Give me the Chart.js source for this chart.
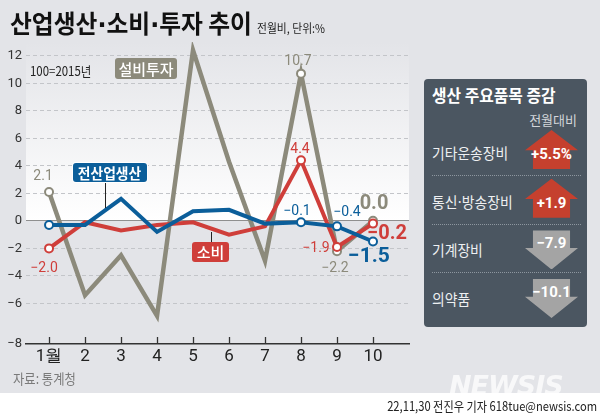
<!DOCTYPE html>
<html>
<head>
<meta charset="utf-8">
<script src="https://cdn.jsdelivr.net/npm/chart.js"></script>
<style>
  body { margin: 0; }
  #wrap { position: relative; width: 600px; height: 417px; background: #fff; overflow: hidden;
          font-family: "Noto Sans CJK KR", "Noto Sans", sans-serif; }
  #bg { position: absolute; left: 0; top: 0; width: 600px; height: 393px; background: #e3e4e8; }
  #c { position: absolute; left: 0; top: 0; }
  .abs { position: absolute; white-space: nowrap; }
  .narrow { display: inline-block; transform-origin: left center; }
  .dot { font-family: "DejaVu Sans", sans-serif; }
  .tag { position: absolute; color: #fff; text-align: center; border-radius: 3px; font-size: 15px; font-weight: 500; }
  .leader { position: absolute; width: 1px; background: #222; }
  #panel { position: absolute; left: 424px; top: 79px; width: 163px; height: 248px; background: #4b5661; border-radius: 4px; }
  .row { position: absolute; left: 8px; width: 149px; height: 48px; }
  .row.sep { border-bottom: 1px dotted #8d969f; }
  .row .name { position: absolute; left: 0; color: #eef0f2; font-size: 15px; }
  .arrow { position: absolute; left: 93px; width: 53px; height: 39px; }
  .arrow .shape { position: absolute; left: 0; top: 0; width: 100%; height: 100%; }
  .arrow .val { position: absolute; left: 0; width: 100%; text-align: center; color: #fff; font-weight: bold;
                font-size: 15px; font-family: "Liberation Sans Narrow", "Roboto", sans-serif; }
</style>
</head>
<body>
<div id="wrap">
  <div id="bg"></div>
  <canvas id="c" width="600" height="417"></canvas>

  <div class="abs" style="left:10px;top:4px;font-size:25px;font-weight:bold;color:#111;">
    <span class="narrow" style="transform:scaleX(0.95);">산업생산<span class="dot">·</span>소비<span class="dot">·</span>투자 추이</span>
  </div>
  <div class="abs" style="left:257px;top:19px;font-size:12px;color:#222;">
    <span class="narrow" style="transform:scaleX(0.9);">전월비, 단위:%</span>
  </div>
  <div class="abs" style="left:30px;top:61px;font-size:13px;color:#222;">
    <span class="narrow" style="transform:scaleX(0.88);">100=2015년</span>
  </div>

  <div class="tag" style="left:115px;top:58px;width:62px;height:21px;line-height:21px;background:#8c8a7b;">설비투자</div>
  <div class="leader" style="left:105px;top:181px;height:27px;"></div>
  <div class="tag" style="left:73px;top:163px;width:74px;height:19px;line-height:19px;background:#0b5e9a;box-shadow:0 0 0 1px #fff;font-weight:bold;">
    <span class="narrow" style="transform:scaleX(0.92);transform-origin:center;">전산업생산</span></div>
  <div class="leader" style="left:211px;top:232px;height:10px;"></div>
  <div class="tag" style="left:192px;top:242px;width:37px;height:20px;line-height:20px;background:#cf3e3a;">소비</div>

  <div class="abs" style="left:13px;top:368px;font-size:14px;color:#7a7a7a;">
    <span class="narrow" style="transform:scaleX(0.88);">자료: 통계청</span>
  </div>

  <div id="panel">
    <div class="abs" style="left:8px;top:3px;font-size:17px;font-weight:bold;color:#fff;">
      <span class="narrow" style="transform:scaleX(0.93);">생산 주요품목 증감</span>
    </div>
    <div class="abs" style="right:10px;top:31px;font-size:13px;color:#d3d6da;">전월대비</div>
    <div id="rows"></div>
  </div>

  <div class="abs" style="left:449px;top:370px;font-size:27px;font-weight:bold;font-style:italic;color:rgba(255,255,255,0.75);font-family:'DejaVu Sans',sans-serif;letter-spacing:-1px;">NEWSIS</div>
  <div class="abs" style="right:3px;top:396px;font-size:13px;color:#222;">
    <span class="narrow" style="transform:scaleX(0.86);transform-origin:right center;">22,11,30 전진우 기자 618tue@newsis.com</span>
  </div>
</div>

<script>
// month axis
const months = [1, 2, 3, 4, 5, 6, 7, 8, 9, 10];
const monthLabels = ['1월', '2', '3', '4', '5', '6', '7', '8', '9', '10'];

// 전월비 (%)
const production = [-0.3, -0.3, 1.6, -0.8, 0.7, 0.8, -0.2, -0.1, -0.4, -1.5];   // 전산업생산
const consumption = [-2.0, -0.1, -0.7, -0.3, -0.1, -1.0, -0.4, 4.4, -1.9, -0.2]; // 소비
const investment = [2.1, -5.4, -2.5, -6.9, 12.4, 4.3, -2.9, 10.7, -2.2, 0.0];    // 설비투자

const yTicks = [12, 10, 8, 6, 4, 2, 0, -2, -4, -6, -8];
const markedIdx = [0, 7, 8, 9];

// right panel
const itemNames = ['기타운송장비', '통신·방송장비', '기계장비', '의약품'];
const itemChanges = [5.5, 1.9, -7.9, -10.1];

const BLUE = '#0b5e9a', RED = '#cf3e3a', GRAY = '#8c8a7b';
const NUM_FONT = '"Liberation Sans Narrow", "Roboto", sans-serif';
const Y_MIN = -8.95, Y_MAX = 13;

const fmt = v => (v < 0 ? '−' : '') + Math.abs(v).toFixed(1);

// panel rows
(function buildRows() {
  const rows = document.getElementById('rows');
  itemNames.forEach((name, i) => {
    const v = itemChanges[i];
    const up = v > 0;
    const row = document.createElement('div');
    row.className = 'row' + (i < itemNames.length - 1 ? ' sep' : '');
    row.style.top = (48 + i * 48.7) + 'px';
    const txt = (up ? '+' : '−') + Math.abs(v) + (i === 0 ? '%' : '');
    const clip = up
      ? 'polygon(50% 0, 100% 52%, 85% 52%, 85% 100%, 15% 100%, 15% 52%, 0 52%)'
      : 'polygon(15% 0, 85% 0, 85% 45%, 100% 45%, 50% 100%, 0 45%, 15% 45%)';
    const label = name.replace('·', '<span class="dot">·</span>');
    row.innerHTML =
      '<div class="name" style="top:15px;"><span class="narrow" style="transform:scaleX(0.92);">' + label + '</span></div>' +
      '<div class="arrow" style="top:' + (up ? 3 : 6) + 'px;">' +
        '<div class="shape" style="background:' + (up ? '#c5402e' : '#a4a4a4') + ';clip-path:' + clip + ';"></div>' +
        '<div class="val" style="top:' + (up ? 15 : 4) + 'px;">' + txt + '</div>' +
      '</div>';
    rows.appendChild(row);
  });
})();

// value labels next to points: [dataset index, point index, dx, dy, size, bold]
const labelSpecs = [
  [2, 0, -6, -15, 14, false],
  [1, 0, -5, 20, 14, false],
  [2, 7, -3, -12, 14, false],
  [1, 7, -1, -11, 14, false],
  [0, 7, -4, -11, 14, false],
  [0, 8, 10, -14, 14, false],
  [1, 8, -21, 1, 14, false],
  [2, 8, -2, 17, 14, false],
  [2, 9, 1, -17, 20, true],
  [1, 9, 14, 10, 20, true],
  [0, 9, -4, 15, 21, true]
];

const decor = {
  id: 'decor',
  beforeDraw(chart) {
    const { ctx, chartArea: a, scales: { y } } = chart;
    const y0 = y.getPixelForValue(0);
    const g = ctx.createLinearGradient(0, a.top, 0, y0);
    g.addColorStop(0, '#e3e4e8');
    g.addColorStop(1, '#ffffff');
    ctx.save();
    ctx.fillStyle = g;
    ctx.fillRect(a.left, a.top, a.right - a.left, y0 - a.top);
    ctx.restore();
  },
  beforeDatasetsDraw(chart) {
    const { ctx, chartArea: a, scales: { x } } = chart;
    ctx.save();
    ctx.strokeStyle = '#333';
    ctx.lineWidth = 1.3;
    months.forEach(m => {
      const px = Math.round(x.getPixelForValue(m)) + 0.5;
      ctx.beginPath();
      ctx.moveTo(px, a.bottom - 7);
      ctx.lineTo(px, a.bottom);
      ctx.stroke();
    });
    ctx.restore();
  },
  afterDatasetsDraw(chart) {
    const { ctx } = chart;
    ctx.save();
    ctx.textAlign = 'center';
    ctx.textBaseline = 'middle';
    labelSpecs.forEach(([ds, i, dx, dy, size, bold]) => {
      const dset = chart.data.datasets[ds];
      const pt = chart.getDatasetMeta(ds).data[i];
      ctx.fillStyle = dset.borderColor;
      ctx.font = (bold ? 'bold ' : '') + size + 'px ' + NUM_FONT;
      ctx.fillText(fmt(dset.data[i].y), pt.x + dx, pt.y + dy);
    });
    ctx.restore();
  }
};

function series(label, values, color, order, width) {
  return {
    label,
    data: values.map((v, i) => ({ x: months[i], y: v })),
    borderColor: color,
    borderWidth: width,
    borderJoinStyle: 'miter',
    pointRadius: values.map((v, i) => markedIdx.includes(i) ? 4 : 0),
    pointBackgroundColor: '#fff',
    pointBorderColor: color,
    pointBorderWidth: 2,
    tension: 0,
    order
  };
}

new Chart(document.getElementById('c'), {
  type: 'line',
  data: {
    datasets: [
      series('전산업생산', production, BLUE, 0, 4),
      series('소비', consumption, RED, 1, 4),
      series('설비투자', investment, GRAY, 2, 4.5)
    ]
  },
  options: {
    responsive: false,
    animation: false,
    devicePixelRatio: 1,
    parsing: false,
    layout: { padding: { left: 0, top: 42, right: 191, bottom: 43 } },
    plugins: { legend: { display: false }, tooltip: { enabled: false } },
    scales: {
      x: {
        type: 'linear',
        min: 0.36,
        max: 11,
        afterBuildTicks: s => { s.ticks = months.map(v => ({ value: v })); },
        afterFit: s => { s.height = 30; },
        ticks: {
          callback: (v, i) => monthLabels[i],
          color: '#222',
          font: { size: 17, family: NUM_FONT },
          padding: 3,
          maxRotation: 0,
          autoSkip: false
        },
        grid: { display: false, drawTicks: false },
        border: { display: true, color: '#333', width: 1.5 }
      },
      y: {
        type: 'linear',
        min: Y_MIN,
        max: Y_MAX,
        afterBuildTicks: s => { s.ticks = yTicks.map(v => ({ value: v === -8 ? Y_MIN : v })); },
        afterFit: s => { s.width = 26; },
        ticks: {
          callback: v => v < -8 ? '−8' : (v < 0 ? '−' + (-v) : String(v)),
          color: '#333',
          font: { size: 13, family: NUM_FONT },
          padding: 4
        },
        grid: {
          drawTicks: false,
          lineWidth: 1,
          color: c => !c.tick ? 'transparent'
            : c.tick.value === 0 ? '#8f8f8f'
            : c.tick.value < -8 ? 'transparent' : '#c3c5c9'
        },
        border: {
          display: false,
          dash: c => (c.tick && c.tick.value === 0) ? [] : [4, 3]
        }
      }
    }
  },
  plugins: [decor]
});
</script>
</body>
</html>
